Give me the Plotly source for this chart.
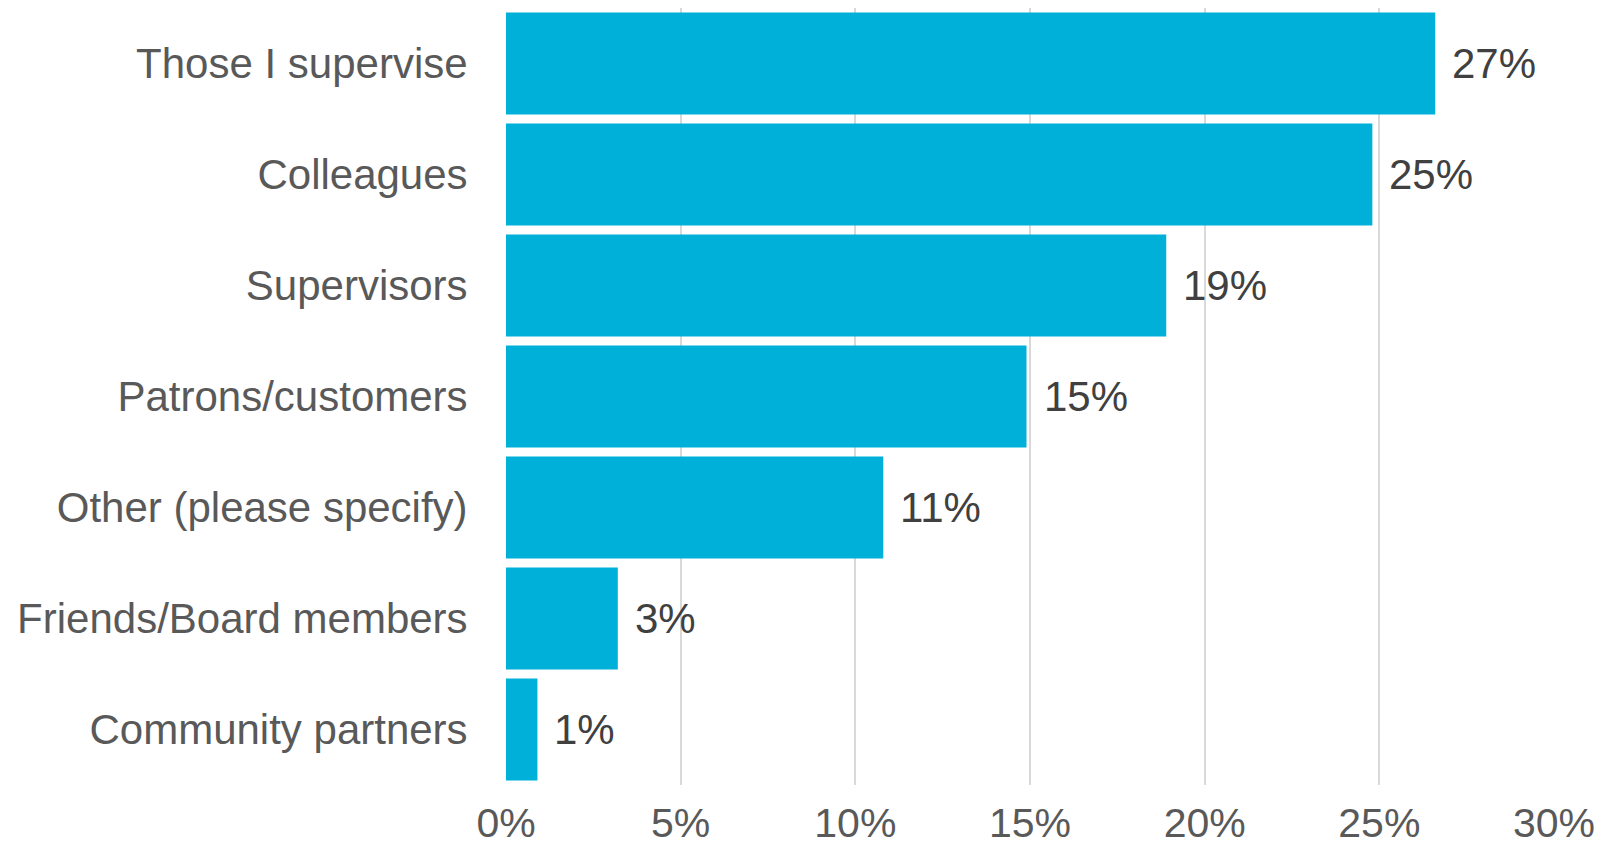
import plotly.graph_objects as go

categories = ["Those I supervise", "Colleagues", "Supervisors", "Patrons/customers",
              "Other (please specify)", "Friends/Board members", "Community partners"]
values = [26.6, 24.8, 18.9, 14.9, 10.8, 3.2, 0.9]
labels = ["27%", "25%", "19%", "15%", "11%", "3%", "1%"]
tick_vals = [0, 5, 10, 15, 20, 25, 30]
tick_text = ["0%", "5%", "10%", "15%", "20%", "25%", "30%"]

FONT = "Liberation Sans, Arial, sans-serif"

fig = go.Figure(go.Bar(
    x=values, y=categories, orientation="h",
    marker=dict(color="#00B0D8", line=dict(width=0)),
    hoverinfo="skip",
))

for c, v, t in zip(categories, values, labels):
    fig.add_annotation(x=v, y=c, text=t, showarrow=False, xanchor="left",
                       xshift=15, font=dict(family=FONT, size=42, color="#404040"))

fig.update_layout(
    width=1612, height=853,
    margin=dict(l=506, r=58, t=8, b=68, autoexpand=False),
    paper_bgcolor="white", plot_bgcolor="white",
    bargap=0.08, showlegend=False,
    xaxis=dict(range=[0, 30], tickvals=tick_vals, ticktext=tick_text,
               showgrid=True, gridcolor="#D9D9D9", gridwidth=1.5,
               zeroline=False, showline=False,
               ticks="outside", ticklen=2, tickcolor="rgba(0,0,0,0)",
               tickfont=dict(family=FONT, size=41, color="#595959")),
    yaxis=dict(categoryorder="array", categoryarray=categories, autorange="reversed",
               showgrid=False, zeroline=False, showline=False,
               ticks="outside", ticklen=29, tickcolor="rgba(0,0,0,0)",
               tickfont=dict(family=FONT, size=42, color="#595959")),
)

fig.write_html("out.html")
